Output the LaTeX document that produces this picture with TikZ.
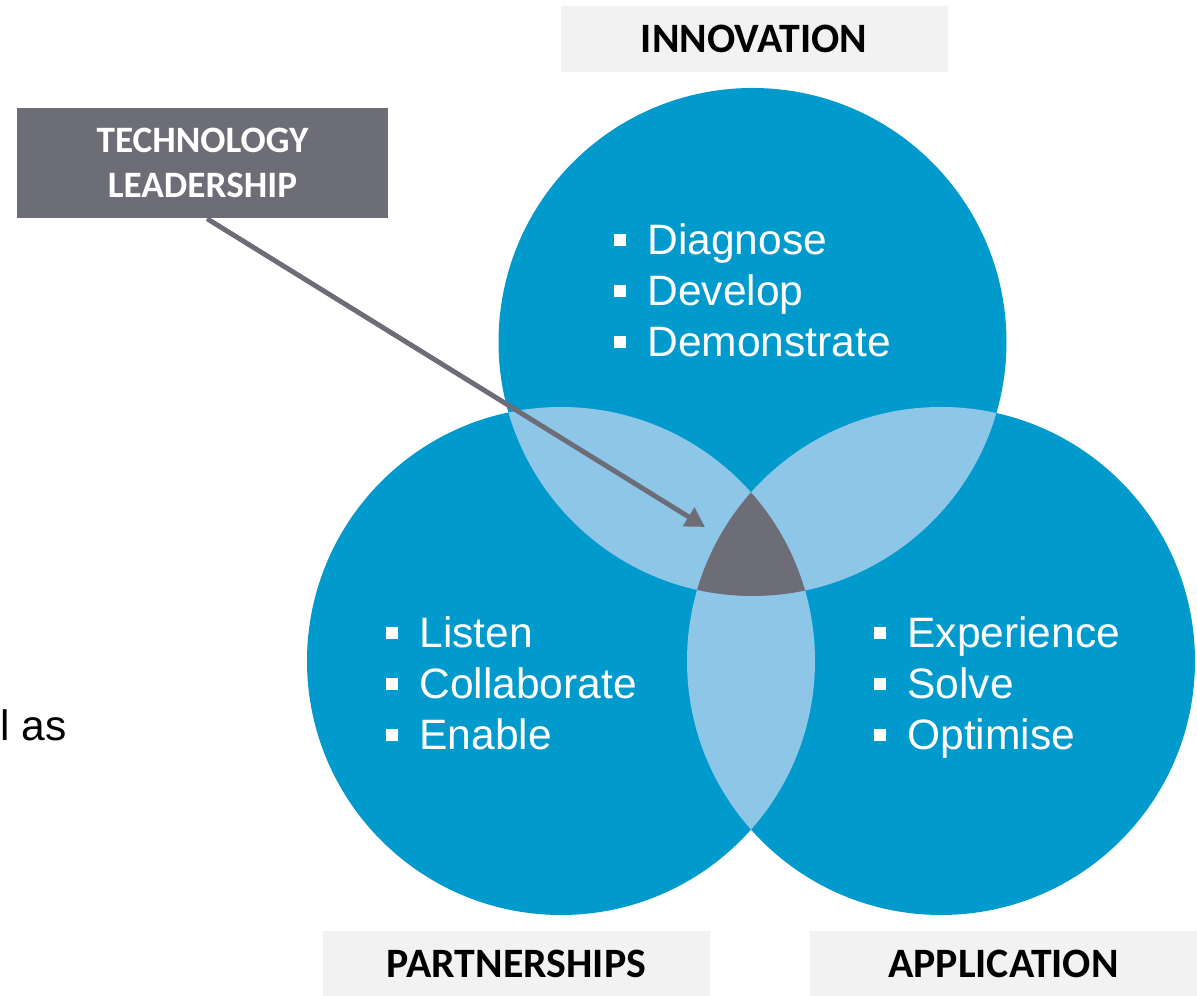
\documentclass[tikz,border=0pt]{standalone}
\usepackage{fontspec}
\setmainfont{Liberation Sans}
\newfontfamily\calfont{Carlito}
\usetikzlibrary{arrows.meta}
\definecolor{vennblue}{RGB}{0,154,205}
\definecolor{vennlight}{RGB}{142,198,232}
\definecolor{venngrey}{RGB}{109,109,120}
\definecolor{tagfill}{RGB}{242,242,242}
\def\rad{2.54}
\def\sq{\raisebox{2.55pt}{\rule{3.4pt}{3.4pt}}\hspace{6.2pt}}

\begin{document}
\begin{tikzpicture}[
  tag/.style={fill=tagfill, minimum width=3.87cm, minimum height=0.66cm, inner sep=0pt,
    font=\calfont\bfseries\fontsize{11.9}{14}\selectfont},
  item/.style={anchor=base west, inner sep=0pt, text=white, font=\fontsize{12.1}{14.5}\selectfont}]
\useasboundingbox (0,0) rectangle (11.97,9.96);
\coordinate (I) at (7.525,6.54);
\coordinate (P) at (5.61,3.35);
\coordinate (A) at (9.41,3.35);
\fill[vennblue] (I) circle (\rad);
\fill[vennblue] (P) circle (\rad);
\fill[vennblue] (A) circle (\rad);
\begin{scope}
\clip (I) circle (\rad);
\fill[vennlight] (P) circle (\rad);
\fill[vennlight] (A) circle (\rad);
\end{scope}
\begin{scope}
\clip (P) circle (\rad);
\fill[vennlight] (A) circle (\rad);
\end{scope}
\begin{scope}
\clip (I) circle (\rad);
\clip (P) circle (\rad);
\fill[venngrey] (A) circle (\rad);
\end{scope}
\foreach \t [count=\i] in {Diagnose,Develop,Demonstrate}
  \node[item] (inn\i) at (6.13,{7.92-0.51*\i}) {\sq\t};
\foreach \t [count=\i] in {Listen,Collaborate,Enable}
  \node[item] (par\i) at (3.85,{3.99-0.51*\i}) {\sq\t};
\foreach \t [count=\i] in {Experience,Solve,Optimise}
  \node[item] (app\i) at (8.73,{3.99-0.51*\i}) {\sq\t};
\node[tag] (inn) at (7.54,9.57) {INNOVATION};
\node[tag] (par) at (5.165,0.32) {PARTNERSHIPS};
\node[tag] (app) at (10.035,0.32) {APPLICATION};
\node[fill=venngrey, text=white, align=center, minimum width=3.71cm, minimum height=1.10cm, inner sep=0pt,
  font=\calfont\bfseries\fontsize{10.6}{13}\selectfont] (tl) at (2.025,8.33) {TECHNOLOGY\\LEADERSHIP};
\coordinate (tip) at (7.05,4.69);
\draw[venngrey, line width=1.4pt, -{Triangle[length=5.5pt,width=6pt]}] ([xshift=1.3pt]tl.south) -- (tip);
\node[anchor=base west, inner sep=0pt, font=\fontsize{12.1}{14.5}\selectfont] (cut) at (0,2.55) {l as};
\end{tikzpicture}
\end{document}
